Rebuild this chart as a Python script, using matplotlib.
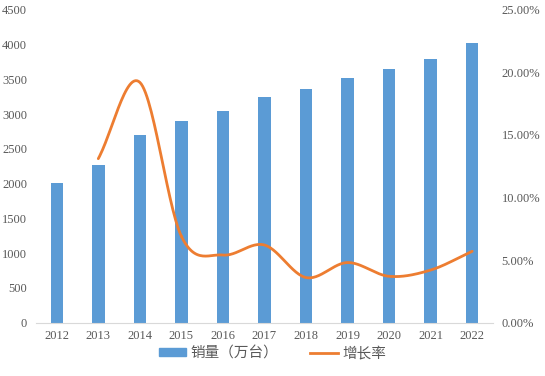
import numpy as np
import matplotlib.pyplot as plt
from matplotlib.lines import Line2D
from matplotlib.patches import Patch
from matplotlib.ticker import FuncFormatter

years = ['2012', '2013', '2014', '2015', '2016', '2017', '2018', '2019', '2020', '2021', '2022']
sales = [2005, 2270, 2700, 2895, 3050, 3240, 3358, 3516, 3646, 3790, 4020]
growth_years = years[1:]
growth = [13.1, 19.2, 6.9, 5.4, 6.2, 3.6, 4.8, 3.7, 4.2, 5.7]

blue = '#5B9BD5'
orange = '#ED7D31'
grey = '#595959'


def smooth(x, y, n=30):
    # catmull-rom curve through the points, like excel's smoothed line
    x = np.asarray(x, float)
    y = np.asarray(y, float)
    px = np.concatenate([[2 * x[0] - x[1]], x, [2 * x[-1] - x[-2]]])
    py = np.concatenate([[2 * y[0] - y[1]], y, [2 * y[-1] - y[-2]]])
    xs, ys = [], []
    for i in range(1, len(px) - 2):
        t = np.linspace(0, 1, n)
        for p, out in ((px, xs), (py, ys)):
            p0, p1, p2, p3 = p[i - 1], p[i], p[i + 1], p[i + 2]
            out.extend(0.5 * ((2 * p1) + (-p0 + p2) * t
                              + (2 * p0 - 5 * p1 + 4 * p2 - p3) * t ** 2
                              + (-p0 + 3 * p1 - 3 * p2 + p3) * t ** 3))
    return np.array(xs), np.array(ys)


plt.rcParams['font.family'] = ['Liberation Serif', 'Noto Sans CJK SC']

fig = plt.figure(figsize=(5.45, 3.76), dpi=100)
ax = fig.add_axes([0.066, 0.142, 0.8385, 0.832])
ax2 = ax.twinx()

x = np.arange(len(years))
ax.bar(x, sales, width=0.3, color=blue, zorder=2)
ax.set_xlim(-0.5, len(years) - 0.5)
ax.set_ylim(0, 4500)
ax.set_yticks(range(0, 4501, 500))
ax.set_xticks(x)
ax.set_xticklabels(years)

gx = [years.index(y) for y in growth_years]
sx, sy = smooth(gx, growth)
ax2.plot(sx, sy, color=orange, lw=2, solid_capstyle='round', zorder=3)
ax2.set_ylim(0, 25)
ax2.set_yticks(range(0, 26, 5))
ax2.yaxis.set_major_formatter(FuncFormatter(lambda v, p: '%.2f%%' % v))

for a in (ax, ax2):
    for s in a.spines.values():
        s.set_visible(False)
    a.tick_params(length=0, colors=grey, labelsize=9)
ax.spines['bottom'].set_visible(True)
ax.spines['bottom'].set_color('#d9d9d9')
ax.tick_params(axis='x', pad=5)
ax.tick_params(axis='y', pad=6.5)
ax2.tick_params(axis='y', pad=6.3)

handles = [Patch(color=blue), Line2D([], [], color=orange, lw=2)]
fig.legend(handles, ['销量（万台）', '增长率'], loc='center', bbox_to_anchor=(0.5, 0.06),
           ncol=2, frameon=False, handlelength=1.9, handleheight=0.45, columnspacing=2.2,
           handletextpad=0.3, prop={'family': ['Noto Sans CJK SC'], 'size': 10.5},
           labelcolor=grey)

fig.savefig('out.png', dpi=100)
